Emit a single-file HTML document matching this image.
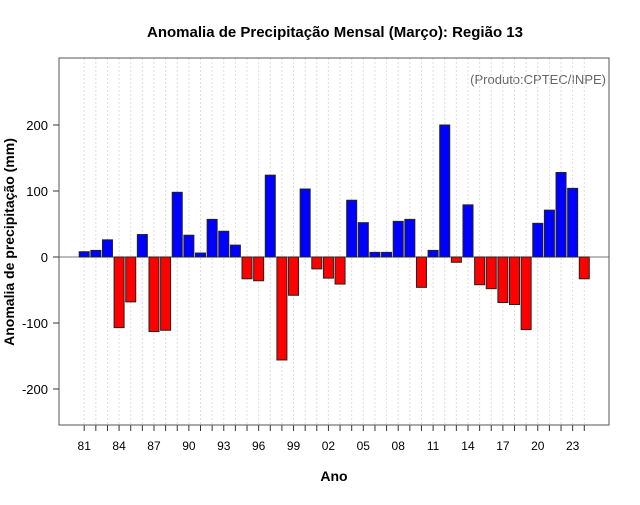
<!DOCTYPE html>
<html><head><meta charset="utf-8"><style>
body{margin:0;background:#fff}
text{font-family:"Liberation Sans",sans-serif}
</style></head><body>
<svg id="c" width="640" height="500" xmlns="http://www.w3.org/2000/svg">
<text x="335" y="37" text-anchor="middle" font-size="15" font-weight="bold">Anomalia de Precipitação Mensal (Março): Região 13</text>
<text x="606" y="84" text-anchor="end" font-size="13" fill="#666">(Produto:CPTEC/INPE)</text>
<text x="334" y="481" text-anchor="middle" font-size="14" font-weight="bold">Ano</text>
<text transform="translate(14,242) rotate(-90)" text-anchor="middle" font-size="14" font-weight="bold">Anomalia de precipitação (mm)</text>
<g id="grid"></g><g id="bars"></g><g id="axes"></g>
<rect x="59" y="58" width="550" height="367" fill="none" stroke="#555"/>
</svg>
<script>
const years = [1981,1982,1983,1984,1985,1986,1987,1988,1989,1990,1991,1992,1993,1994,1995,1996,1997,1998,1999,2000,2001,2002,2003,2004,2005,2006,2007,2008,2009,2010,2011,2012,2013,2014,2015,2016,2017,2018,2019,2020,2021,2022,2023,2024];
const anomalies = [8,10,26,-107,-68,34,-113,-111,98,33,6,57,39,18,-33,-36,124,-156,-58,103,-18,-32,-41,86,52,7,7,54,57,-46,10,200,-8,79,-42,-48,-69,-72,-110,51,71,128,104,-33];
const yTicks = [-200,-100,0,100,200];
const NS='http://www.w3.org/2000/svg';
const x = i => 84.2 + i*11.63;
const y = v => 257 - v*0.66;
function mk(tag, attrs, parent){const e=document.createElementNS(NS,tag);for(const k in attrs)e.setAttribute(k,attrs[k]);document.getElementById(parent).appendChild(e);return e;}
years.forEach((yr,i)=>{
  const g=mk('line',{x1:x(i),x2:x(i),y1:58,y2:425,stroke:'#ddd','stroke-dasharray':'2,2'},'grid');
  
  
  const t=mk('line',{x1:x(i),x2:x(i),y1:425,y2:431,stroke:'#333'},'axes');
  
  
  if(i%3===0){
    const l=mk('text',{x:x(i),y:450,'text-anchor':'middle','font-size':'12'},'axes');
    l.textContent=String(yr%100).padStart(2,'0');
    
    
  }
});
const z=mk('line',{x1:59,x2:609,y1:y(0),y2:y(0),stroke:'#777'},'grid');


anomalies.forEach((v,i)=>{
  const top=Math.min(y(v),y(0)), h=Math.abs(y(v)-y(0));
  const b=mk('rect',{x:x(i)-5,y:top,width:10,height:h,fill:v>=0?'#0000ff':'#ff0000',stroke:'#222','stroke-width':1},'bars');
  
  
});
yTicks.forEach(v=>{
  const t=mk('line',{x1:53,x2:59,y1:y(v),y2:y(v),stroke:'#333'},'axes');
  
  
  const l=mk('text',{x:48,y:y(v)+5,'text-anchor':'end','font-size':'13'},'axes');
  l.textContent=String(v);
  
  
});
</script>
</body></html>
